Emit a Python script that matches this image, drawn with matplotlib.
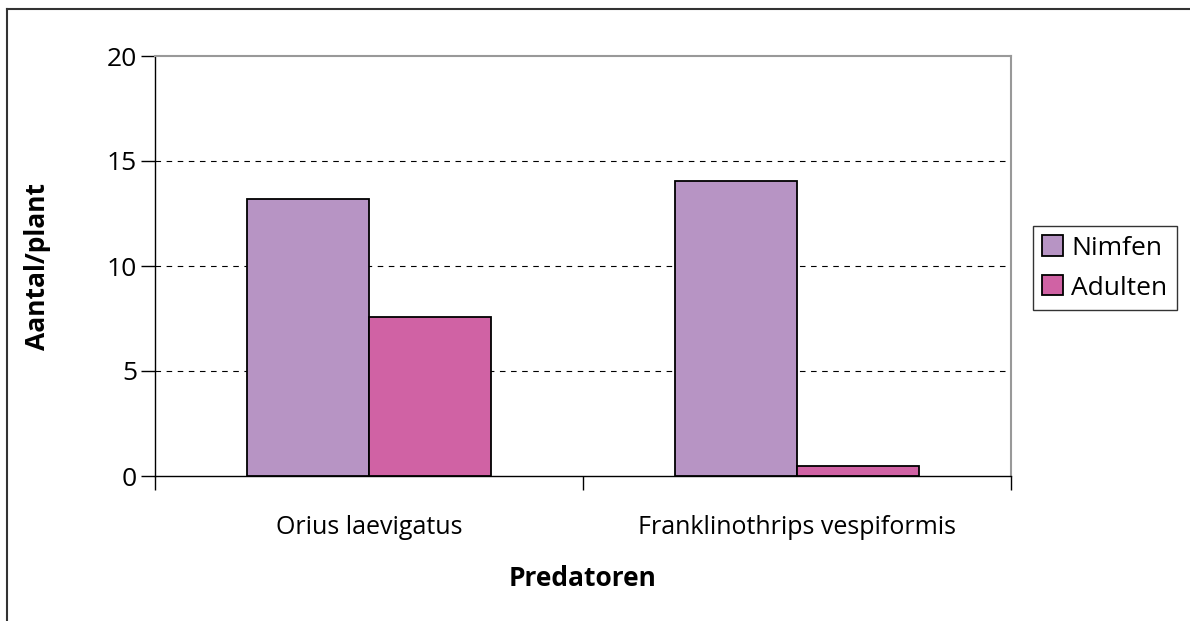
import numpy as np
import matplotlib.pyplot as plt
from matplotlib.lines import Line2D

# data
categories = ["Orius laevigatus", "Franklinothrips vespiformis"]
nimfen = [13.2, 14.05]
adulten = [7.55, 0.5]
series_names = ["Nimfen", "Adulten"]
colors = ["#B794C4", "#D062A4"]

plt.rcParams['font.family'] = ['Open Sans', 'DejaVu Sans']

fig = plt.figure(figsize=(11.9, 6.21), dpi=100)
ax = fig.add_axes([155 / 1190, 1 - 476 / 621, (1011 - 155) / 1190, (476 - 56) / 621])

x = np.arange(len(categories))
w = 0.285
ax.bar(x - w / 2, nimfen, w, color=colors[0], edgecolor='black', linewidth=1.3,
       label=series_names[0], zorder=3)
ax.bar(x + w / 2, adulten, w, color=colors[1], edgecolor='black', linewidth=1.3,
       label=series_names[1], zorder=3)

ax.set_xlim(-0.5, 1.5)
ax.set_ylim(0, 20)
ax.set_yticks([0, 5, 10, 15, 20])
ax.set_xticks([-0.5, 0.5, 1.5])
ax.set_xticklabels([])
ax.set_xticks(x, minor=True)
ax.set_xticklabels(categories, minor=True)
ax.tick_params(axis='x', which='minor', length=0, pad=28, labelsize=18)
ax.tick_params(axis='x', which='major', direction='out', length=10, width=1)
ax.tick_params(axis='y', direction='out', length=10, width=1, labelsize=19, pad=3)

for v in [5, 10, 15]:
    ax.axhline(v, color='black', linestyle=(0, (5, 5)), linewidth=0.8, zorder=1)

for s in ['top', 'right']:
    ax.spines[s].set_color('#999999')
    ax.spines[s].set_linewidth(1.5)
for s in ['left', 'bottom']:
    ax.spines[s].set_color('black')
    ax.spines[s].set_linewidth(1)

ax.set_ylabel("Aantal/plant", fontsize=19, fontweight='bold', labelpad=40)
ax.set_xlabel("Predatoren", fontsize=19, fontweight='bold', labelpad=18)

leg = fig.legend(loc='center left', bbox_to_anchor=(1033 / 1190, 1 - 268 / 621),
                 fontsize=19, frameon=True, fancybox=False, handlelength=0.8,
                 handleheight=0.8, handletextpad=0.3, borderpad=0.35,
                 labelspacing=0.55, borderaxespad=0)
leg.get_frame().set_edgecolor('black')
leg.get_frame().set_linewidth(1)

# figure border (top and left only visible)
fig.add_artist(Line2D([7 / 1190, 7 / 1190], [0, 1 - 9 / 621], color='#333333',
                      linewidth=1.5, transform=fig.transFigure))
fig.add_artist(Line2D([7 / 1190, 1], [1 - 9 / 621, 1 - 9 / 621], color='#333333',
                      linewidth=1.5, transform=fig.transFigure))

fig.savefig("out.png", dpi=100)
